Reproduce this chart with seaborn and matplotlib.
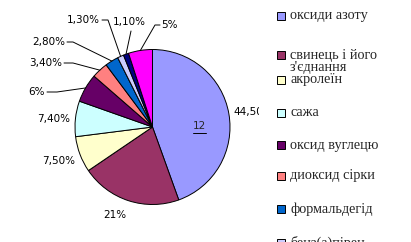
import matplotlib
matplotlib.use("Agg")
import matplotlib.pyplot as plt
import seaborn as sns
import numpy as np
from matplotlib.transforms import Bbox, TransformedBbox
from matplotlib.patches import Rectangle

sns.set_style("white")
plt.rcParams['font.family'] = ['DejaVu Sans']

# ---- data ----
categories = ["оксиди азоту", "свинець і його\nз'єднання", "акролеїн", "сажа",
              "оксид вуглецю", "диоксид сірки", "формальдегід", "бенз(а)пірен",
              "вуглеводні", "інші"]
values = [44.5, 21, 7.5, 7.4, 6, 3.4, 2.8, 1.3, 1.1, 5]
value_labels = ["44,50%", "21%", "7,50%", "7,40%", "6%", "3,40%", "2,80%",
                "1,30%", "1,10%", "5%"]
colors = ["#9999FF", "#993366", "#FFFFCC", "#CCFFFF", "#660066", "#FF8080",
          "#0066CC", "#CCCCFF", "#000080", "#FF00FF"]
inner_label = "12"

W, H = 411, 242
fig = plt.figure(figsize=(W / 100, H / 100), dpi=100)
ax = fig.add_axes([0, 0, 1, 1])

cx, cy, R = 152.5, H - 127, 77.5
wedges, _ = ax.pie(values, colors=colors, startangle=90, counterclock=False,
                   center=(cx, cy), radius=R,
                   wedgeprops=dict(edgecolor="black", linewidth=0.7))
ax.set_xlim(0, W)
ax.set_ylim(0, H)
ax.set_aspect("equal")
ax.axis("off")

def P(x, y):
    return x, H - y

lab_font = dict(fontsize=7.5, color="black", va="center")
# (x, y, ha) in pixel coordinates from top-left; leader polyline start points
lab_pos = [(233, 112, "left"), (115, 215, "center"), (75, 161, "right"),
           (70, 119, "right"), (45, 92, "right"), (62, 63, "right"),
           (65, 42, "right"), (100, 20, "right"), (129, 22, "center"),
           (169, 25, "center")]
leaders = {4: [(47, 92), (57, 92)],
           5: [(64, 63), (73, 63)],
           6: [(67, 42), (73, 42)],
           7: [(102, 20), (108, 20)],
           8: [(131, 31), (131, 31)],
           9: [(160, 25), (155, 25)]}

clipbox = TransformedBbox(Bbox.from_extents(0, 0, 259, H), ax.transData)
for i, (w, lab) in enumerate(zip(wedges, value_labels)):
    x, y, ha = lab_pos[i]
    t = ax.text(*P(x, y), lab, ha=ha, **lab_font)
    if i == 0:
        t.set_clip_on(True)
        t.set_clip_box(clipbox)
    if i in leaders:
        th = np.deg2rad((w.theta1 + w.theta2) / 2)
        ex, ey = cx + R * np.cos(th), cy + R * np.sin(th)
        pts = [P(*p) for p in leaders[i]] + [(ex, ey)]
        xs, ys = zip(*pts)
        ax.plot(xs, ys, color="black", lw=0.7)

# inner label
ax.text(*P(199, 126), inner_label, ha="center", va="center", fontsize=7.5)
ax.plot([P(193, 133)[0], P(206, 133)[0]], [P(193, 133)[1]] * 2, color="black", lw=0.7)

# legend (manual, clipped at bottom like the reference)
leg_y = [16, 55, 80, 113, 145, 176, 209, 243, 275, 307]
for name, col, y in zip(categories, colors, leg_y):
    ax.add_patch(Rectangle(P(277, y + 4), 8, 8, facecolor=col, edgecolor="black",
                           lw=0.7))
    lines = name.split("\n")
    ax.text(*P(290, y), lines[0], ha="left", va="center", fontsize=10.3,
            family="Liberation Serif")
    for k, extra in enumerate(lines[1:], start=1):
        ax.text(*P(290, y + 12 * k), extra, ha="left", va="center", fontsize=10.3,
                family="Liberation Serif")

fig.savefig("out.png", dpi=100)
